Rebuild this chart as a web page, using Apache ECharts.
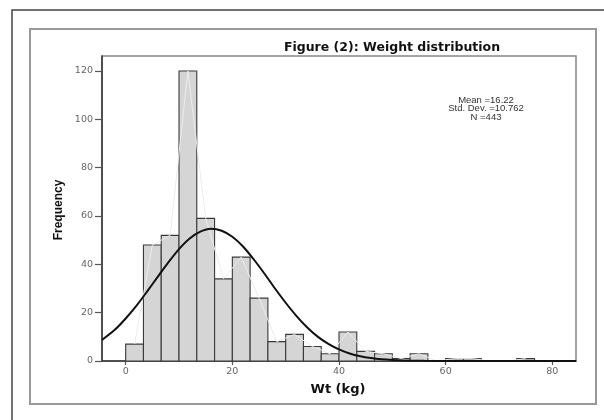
<!DOCTYPE html>
<html>
<head>
<meta charset="utf-8">
<script src="https://cdn.jsdelivr.net/npm/echarts@6/dist/echarts.min.js"></script>
<style>html,body{margin:0;padding:0;background:#fff;}#c{width:604px;height:420px;}</style>
</head>
<body>
<div id="c"></div>
<script>
// ---- data ----
const titleText = 'Figure (2): Weight distribution';
const statsLines = ['Mean =16.22', 'Std. Dev. =10.762', 'N =443'];
const xName = 'Wt (kg)';
const yName = 'Frequency';
const xTicks = [0, 20, 40, 60, 80];
const yTicks = [0, 20, 40, 60, 80, 100, 120];
// histogram bin edges (kg) and counts
const binEdges = [0, 3.333, 6.667, 10, 13.333, 16.667, 20, 23.333, 26.667, 30, 33.333, 36.667,
  40, 43.333, 46.667, 50, 53.333, 56.667, 60, 63.333, 66.667, 70, 73.333, 76.667];
const counts = [7, 48, 52, 120, 59, 34, 43, 26, 8, 11, 6, 3,
  12, 4, 3, 1, 3, 0, 1, 1, 0, 0, 1];
// fitted normal curve
const curveX = [-4.44, -2, 0, 2, 4, 6, 8, 10, 12, 14, 16, 18, 20, 22, 24, 26, 28, 30, 32, 34, 36, 38, 40, 42, 44, 46, 48, 50, 52, 56, 60, 70, 84.44];
const curveY = [8.7, 13.0, 17.6, 22.8, 28.7, 34.8, 40.8, 46.3, 50.7, 53.5, 54.7, 53.9, 51.4, 47.4, 42.1, 36.2, 30.0, 24.1, 18.7, 14.0, 10.1, 7.1, 4.8, 3.1, 1.95, 1.2, 0.7, 0.4, 0.22, 0.06, 0.01, 0, 0];

// ---- build ----
const histData = counts.map((c, i) => [binEdges[i], binEdges[i + 1], c]);
const polyData = counts.map((c, i) => [(binEdges[i] + binEdges[i + 1]) / 2, c]);
const curveData = curveX.map((x, i) => [x, curveY[i]]);

const chart = echarts.init(document.getElementById('c'), null, {renderer: 'canvas'});
const tickFont = {fontFamily: 'DejaVu Sans', fontSize: 9.5, color: '#666'};
chart.setOption({
  animation: false,
  backgroundColor: '#fff',
  grid: {left: 102, right: 28, top: 56, bottom: 59, show: true, borderColor: '#888', borderWidth: 1.5, backgroundColor: 'transparent'},
  xAxis: {
    type: 'value', min: -4.44, max: 84.44,
    axisLine: {show: true, onZero: false, lineStyle: {color: '#333', width: 1.5}},
    axisTick: {show: true, length: 4, customValues: xTicks, lineStyle: {color: '#555', width: 1.2}},
    axisLabel: Object.assign({customValues: xTicks, margin: 6}, tickFont),
    splitLine: {show: false}
  },
  yAxis: {
    type: 'value', min: 0, max: 126.2,
    axisLine: {show: true, onZero: false, lineStyle: {color: '#333', width: 1.5}},
    axisTick: {show: true, length: 7, customValues: yTicks, lineStyle: {color: '#555', width: 1.2}},
    axisLabel: Object.assign({customValues: yTicks, margin: 9}, tickFont),
    splitLine: {show: false}
  },
  series: [
    {
      type: 'custom', z: 2,
      data: histData,
      renderItem: function (params, api) {
        const y = api.value(2);
        if (!y) return null;
        const p0 = api.coord([api.value(0), y]);
        const p1 = api.coord([api.value(1), 0]);
        return {type: 'rect', shape: {x: p0[0], y: p0[1], width: p1[0] - p0[0], height: p1[1] - p0[1]},
          style: {fill: '#d5d5d5', stroke: '#3a3a3a', lineWidth: 1.1}};
      }
    },
    {
      type: 'line', z: 3, data: polyData, symbol: 'none',
      lineStyle: {color: '#ececec', width: 1}
    },
    {
      type: 'line', z: 4, data: curveData, symbol: 'none', smooth: 0.3,
      lineStyle: {color: '#111', width: 2}
    }
  ],
  graphic: [
    {type: 'rect', shape: {x: 12, y: 10, width: 620, height: 430}, style: {fill: 'none', stroke: '#444', lineWidth: 1.5}},
    {type: 'rect', shape: {x: 30, y: 29, width: 566, height: 375}, style: {fill: 'none', stroke: '#999', lineWidth: 2}},
    {type: 'text', x: 392, y: 48, style: {text: titleText, textAlign: 'center', textVerticalAlign: 'middle', font: 'bold 12.5px "DejaVu Sans"', fill: '#111'}},
    {type: 'text', x: 486, y: 100, style: {text: statsLines[0], textAlign: 'center', textVerticalAlign: 'middle', font: '9.5px "Liberation Sans"', fill: '#333'}},
    {type: 'text', x: 486, y: 108.5, style: {text: statsLines[1], textAlign: 'center', textVerticalAlign: 'middle', font: '9.5px "Liberation Sans"', fill: '#333'}},
    {type: 'text', x: 486, y: 117, style: {text: statsLines[2], textAlign: 'center', textVerticalAlign: 'middle', font: '9.5px "Liberation Sans"', fill: '#333'}},
    {type: 'text', x: 338, y: 390, style: {text: xName, textAlign: 'center', textVerticalAlign: 'middle', font: 'bold 13px "DejaVu Sans"', fill: '#111'}},
    {type: 'text', x: 59, y: 210, rotation: Math.PI / 2, style: {text: yName, textAlign: 'center', textVerticalAlign: 'middle', font: 'bold 12px "Liberation Sans Narrow", "Liberation Sans"', fill: '#111'}}
  ]
});
</script>
</body>
</html>
